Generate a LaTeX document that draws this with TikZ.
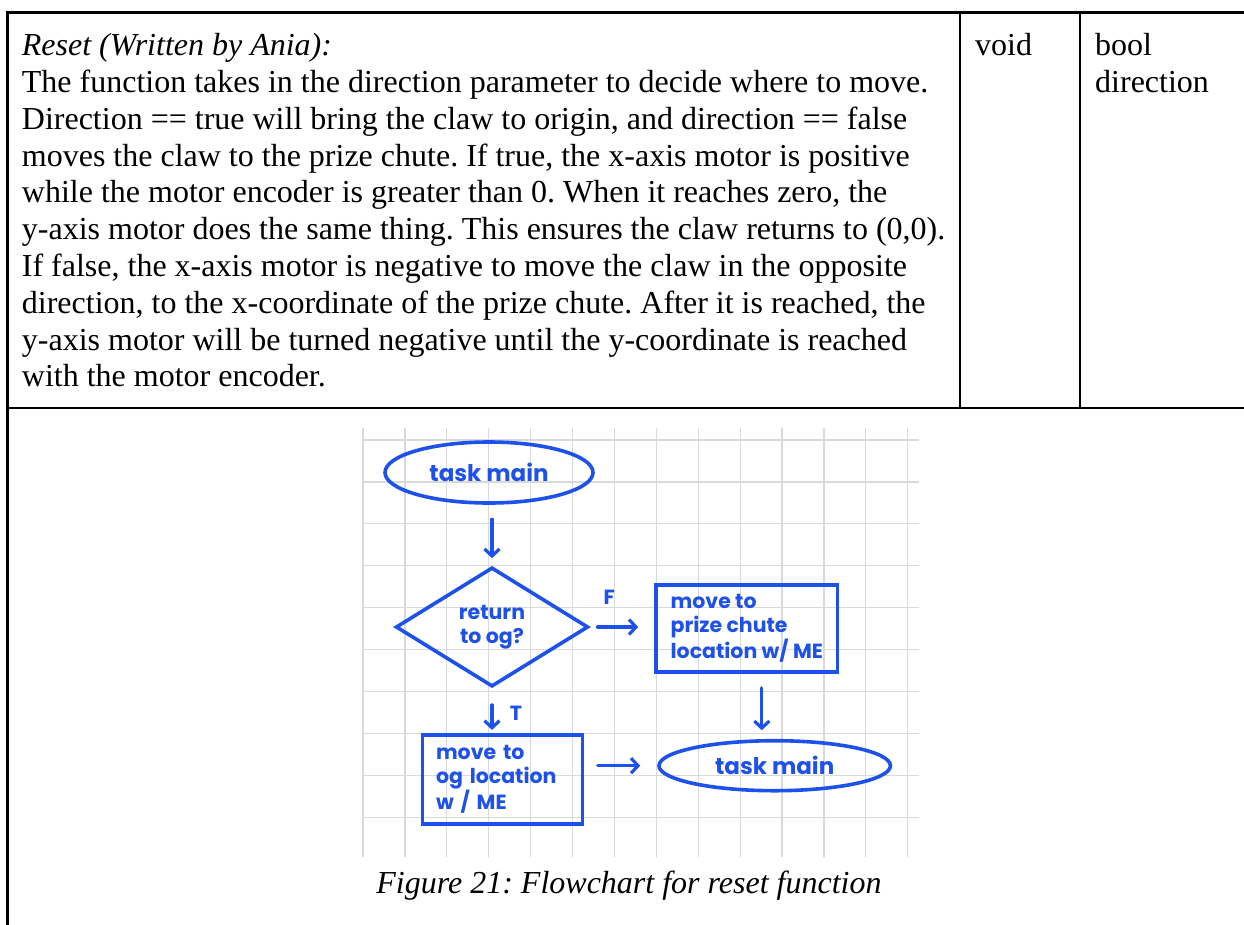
\documentclass[tikz,border=0pt]{standalone}
\usepackage{fontspec}
\setmainfont{Liberation Serif}
\newfontfamily\handfont{Poppins}
\usetikzlibrary{shapes.geometric,arrows.meta}
\definecolor{ink}{RGB}{30,80,235}
\definecolor{gridgray}{RGB}{217,217,217}

\begin{document}
\frenchspacing
\begin{tikzpicture}[x=1pt,y=-1pt,
  rule/.style={line width=2.6pt, black},
  body/.style={anchor=base west, inner sep=0pt, font=\fontsize{32}{36.8}\selectfont},
  hand/.style={font=\handfont\bfseries\fontsize{20.5}{23.5}\selectfont, text=ink},
  shapeline/.style={draw=ink, line width=3.6pt},
  term/.style={shapeline, ellipse, inner sep=0pt, hand, font=\handfont\bfseries\fontsize{23}{26}\selectfont},
  decide/.style={shapeline, diamond, inner sep=0pt, hand, align=center},
  proc/.style={shapeline, rectangle, inner sep=0pt, hand, align=left},
  flow/.style={ink, line width=3.2pt, line cap=round, -{Straight Barb[length=7pt,width=15pt]}},
  tag/.style={hand, inner sep=0pt}
]
\useasboundingbox (0,0) rectangle (1244,924);

% squared paper behind the flowchart
\foreach \k in {0,...,13}
  \draw[gridgray, line width=1.2pt] ({363+41.9*\k},428) -- ({363+41.9*\k},857);
\foreach \k in {0,...,9}
  \draw[gridgray, line width=1.2pt] (363,{440+41.9*\k}) -- (919,{440+41.9*\k});

% table rules
\draw[rule] (7.3,930) -- (7.3,12.3) -- (1250,12.3);
\draw[rule] (7.3,408) -- (1250,408);
\draw[rule] (960,12.3) -- (960,408);
\draw[rule] (1080,12.3) -- (1080,408);

% description cell
\node[body, font=\itshape\fontsize{32}{36.8}\selectfont] (l1) at (21.7,55.7) {Reset (Written by Ania):};
\foreach \t [count=\i from 2] in {
  {The function takes in the direction parameter to decide where to move.},
  {Direction == true will bring the claw to origin, and direction == false},
  {moves the claw to the prize chute. If true, the x-axis motor is positive},
  {while the motor encoder is greater than 0. When it reaches zero, the},
  {y-axis motor does the same thing. This ensures the claw returns to (0,0).},
  {If false, the x-axis motor is negative to move the claw in the opposite},
  {direction, to the x-coordinate of the prize chute. After it is reached, the},
  {y-axis motor will be turned negative until the y-coordinate is reached},
  {with the motor encoder.}}
  \node[body] (l\i) at (21.7,{55.7+36.8*(\i-1)}) {\t};

% return type and parameter cells
\node[body] (ret) at (975,55.7) {void};
\node[body] (par1) at (1095,55.7) {bool};
\node[body] (par2) at (1095,92.5) {direction};

% flowchart
\node[term, minimum width=208pt, minimum height=61pt] (e1) at (489,472.5) {task main};
\node[decide, minimum width=192.5pt, minimum height=119.3pt] (d) at (492,627) {return\\to og?};
\node[proc, minimum width=181.6pt, minimum height=87pt] (b1) at (746.8,628.5) {move to\\prize chute\\location w/ ME};
\node[proc, inner xsep=13.5pt, text width=132.8pt, minimum height=89pt] (b2) at (502.4,779.5) {move to\\og location\\w / ME};
\node[term, minimum width=231.4pt, minimum height=50pt] (e2) at (774.7,765.7) {task main};

\draw[flow, shorten <=14.5pt, shorten >=7.4pt] (d.north |- e1.south) -- (d.north);
\draw[flow, shorten <=7.5pt, shorten >=16pt] (d.east) -- (d.east -| b1.west)
  node[tag, pos=0.3, yshift=30pt] (f) {F};
\draw[flow, shorten <=16.4pt, shorten >=3.3pt] (d.south) -- (d.south |- b2.north)
  node[tag, pos=0.55, xshift=24pt] (t) {T};
\coordinate (b1out) at ([xshift=15pt]b1.south);
\draw[flow, shorten <=14pt, shorten >=8.7pt] (b1out) -- (b1out |- e2.north);
\draw[flow, shorten <=13.7pt, shorten >=17pt] (b2.east |- e2.west) -- (e2.west);

% caption
\node[anchor=base, inner sep=0pt, font=\itshape\fontsize{32}{36.8}\selectfont] (cap) at (629,893) {Figure 21: Flowchart for reset function};
\end{tikzpicture}
\end{document}
